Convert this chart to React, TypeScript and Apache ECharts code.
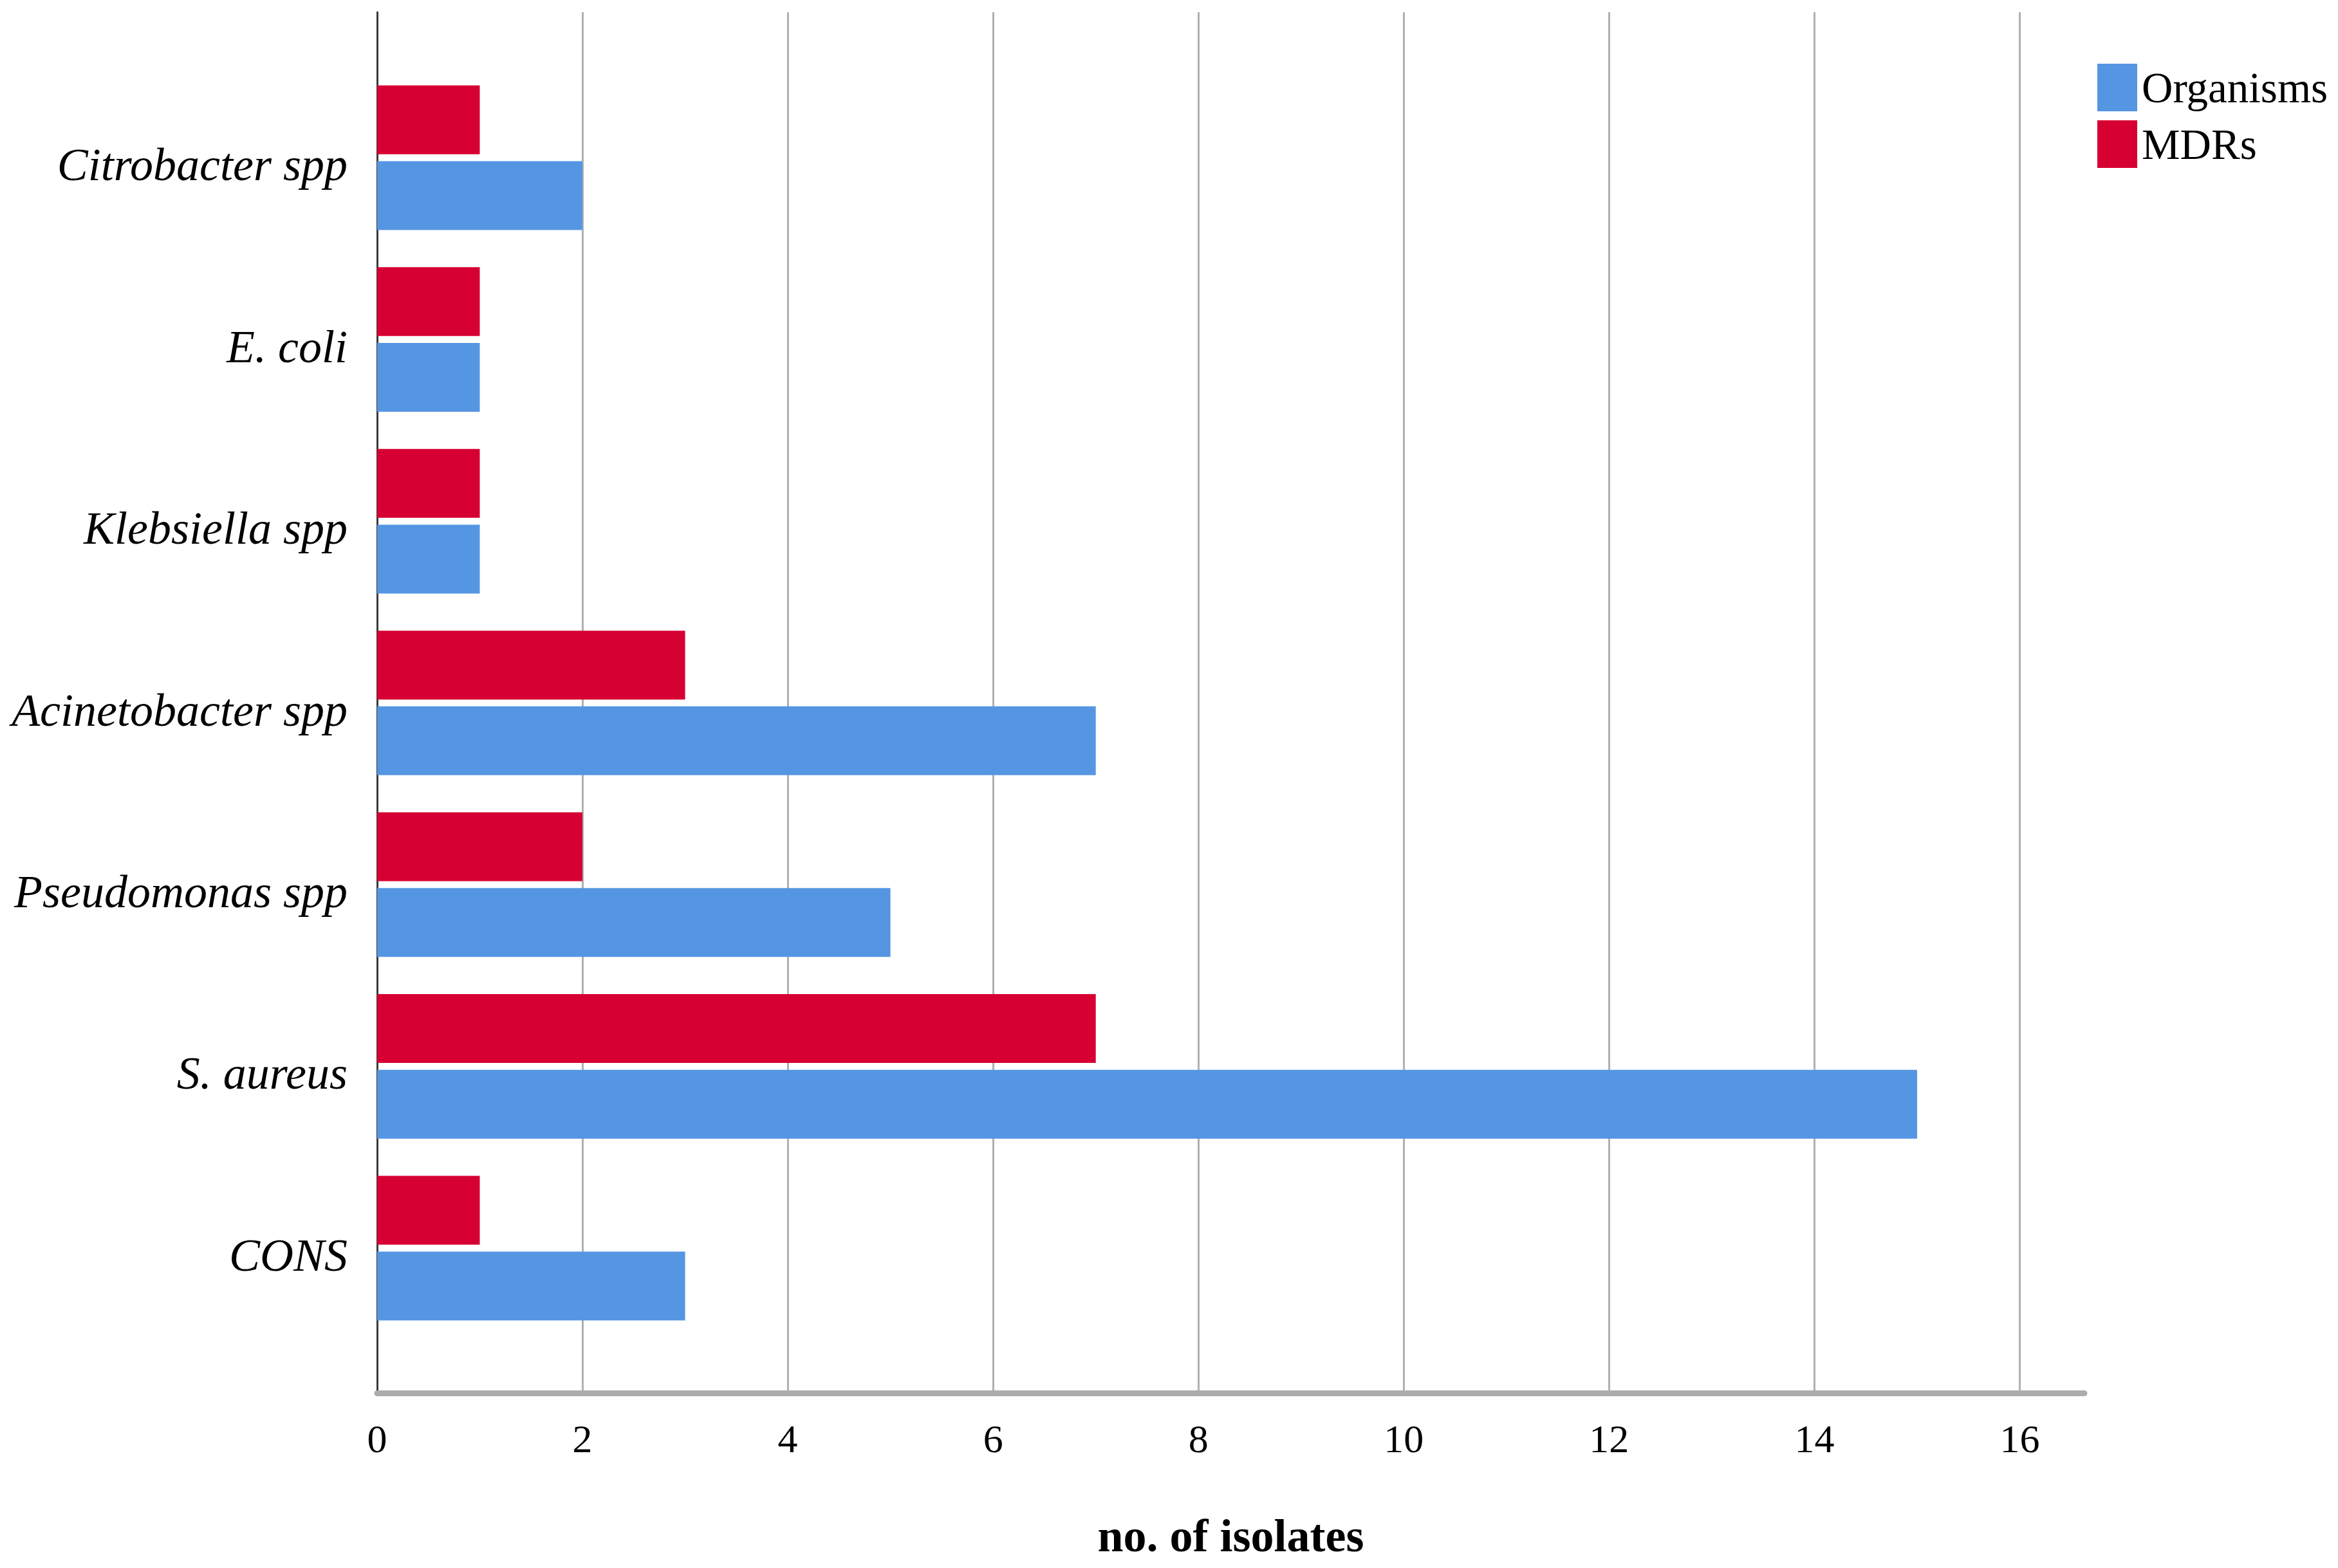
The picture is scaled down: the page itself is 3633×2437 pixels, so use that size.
import React, { useEffect, useRef } from 'react';
import * as echarts from 'echarts';

// Categories listed top to bottom as in the reference
const categories = ['Citrobacter spp', 'E. coli', 'Klebsiella spp', 'Acinetobacter spp', 'Pseudomonas spp', 'S. aureus', 'CONS'];
const organisms = [2, 1, 1, 7, 5, 15, 3];
const mdrs = [1, 1, 1, 3, 2, 7, 1];
const legendNames = ['Organisms', 'MDRs'];
const xMin = 0;
const xMax = 16.63;
const xInterval = 2;
const xTitle = 'no. of isolates';

const W = 3633;
const H = 2437;
const BLUE = '#5596e3';
const RED = '#d70032';
const FONT = "'Liberation Serif', 'Times New Roman', serif";

export default function App() {
  const ref = useRef<HTMLDivElement>(null);
  useEffect(() => {
    if (!ref.current) return;
    const chart = echarts.init(ref.current, null, { renderer: 'svg' });
    const left = 586;
    const right = W - 3239;
    chart.setOption({
      animation: false,
      backgroundColor: '#ffffff',
      textStyle: { fontFamily: FONT, color: '#000' },
      legend: {
        data: legendNames,
        orient: 'vertical',
        left: 3254,
        top: 94,
        itemWidth: 62,
        itemHeight: 74,
        itemGap: 14,
        icon: 'rect',
        textStyle: { fontFamily: FONT, fontSize: 67, color: '#000', padding: [0, 0, 0, 2] },
      },
      grid: [
        { left, right, top: 19, bottom: H - 2165, outerBoundsMode: 'none', containLabel: false },
        { left, right, top: 104, bottom: H - 2081, outerBoundsMode: 'none', containLabel: false },
      ],
      xAxis: [
        {
          type: 'value',
          gridIndex: 0,
          min: xMin,
          max: xMax,
          interval: xInterval,
          name: xTitle,
          nameLocation: 'middle',
          nameGap: 186,
          nameTextStyle: { fontFamily: FONT, fontSize: 72, fontWeight: 'bold', color: '#000' },
          axisLine: { show: true, lineStyle: { color: '#acacac', width: 9 } },
          axisTick: { show: false },
          axisLabel: {
            show: true,
            showMaxLabel: false,
            margin: 40,
            fontFamily: FONT,
            fontSize: 62,
            color: '#000',
          },
          splitLine: { show: true, showMinLine: false, showMaxLine: false, lineStyle: { color: '#b0b0b0', width: 3 } },
        },
        {
          type: 'value',
          gridIndex: 1,
          min: xMin,
          max: xMax,
          interval: xInterval,
          show: false,
          splitLine: { show: false },
        },
      ],
      yAxis: [
        {
          type: 'value',
          gridIndex: 0,
          min: 0,
          max: 1,
          axisLine: { show: true, lineStyle: { color: '#3a3a3a', width: 3 } },
          axisTick: { show: false },
          axisLabel: { show: false },
          splitLine: { show: false },
        },
        {
          type: 'category',
          gridIndex: 1,
          data: categories,
          inverse: true,
          axisLine: { show: false },
          axisTick: { show: false },
          splitLine: { show: false },
          axisLabel: {
            margin: 46,
            formatter: (v: string) => `{c|${v}}`,
            rich: {
              c: {
                fontFamily: FONT,
                fontStyle: 'italic',
                fontSize: 72,
                color: '#000',
                padding: [22, 0, 0, 0],
              },
            },
          },
        },
      ],
      series: [
        {
          name: 'MDRs',
          type: 'bar',
          xAxisIndex: 1,
          yAxisIndex: 1,
          data: mdrs,
          barWidth: 107,
          barGap: '10%',
          itemStyle: { color: RED },
        },
        {
          name: 'Organisms',
          type: 'bar',
          xAxisIndex: 1,
          yAxisIndex: 1,
          data: organisms,
          barWidth: 107,
          barGap: '10%',
          itemStyle: { color: BLUE },
        },
      ],
    });
    return () => chart.dispose();
  }, []);
  return (
    <div
      ref={ref}
      style={{ position: 'fixed', left: 0, top: 0, width: W, height: H, background: '#fff' }}
    />
  );
}
